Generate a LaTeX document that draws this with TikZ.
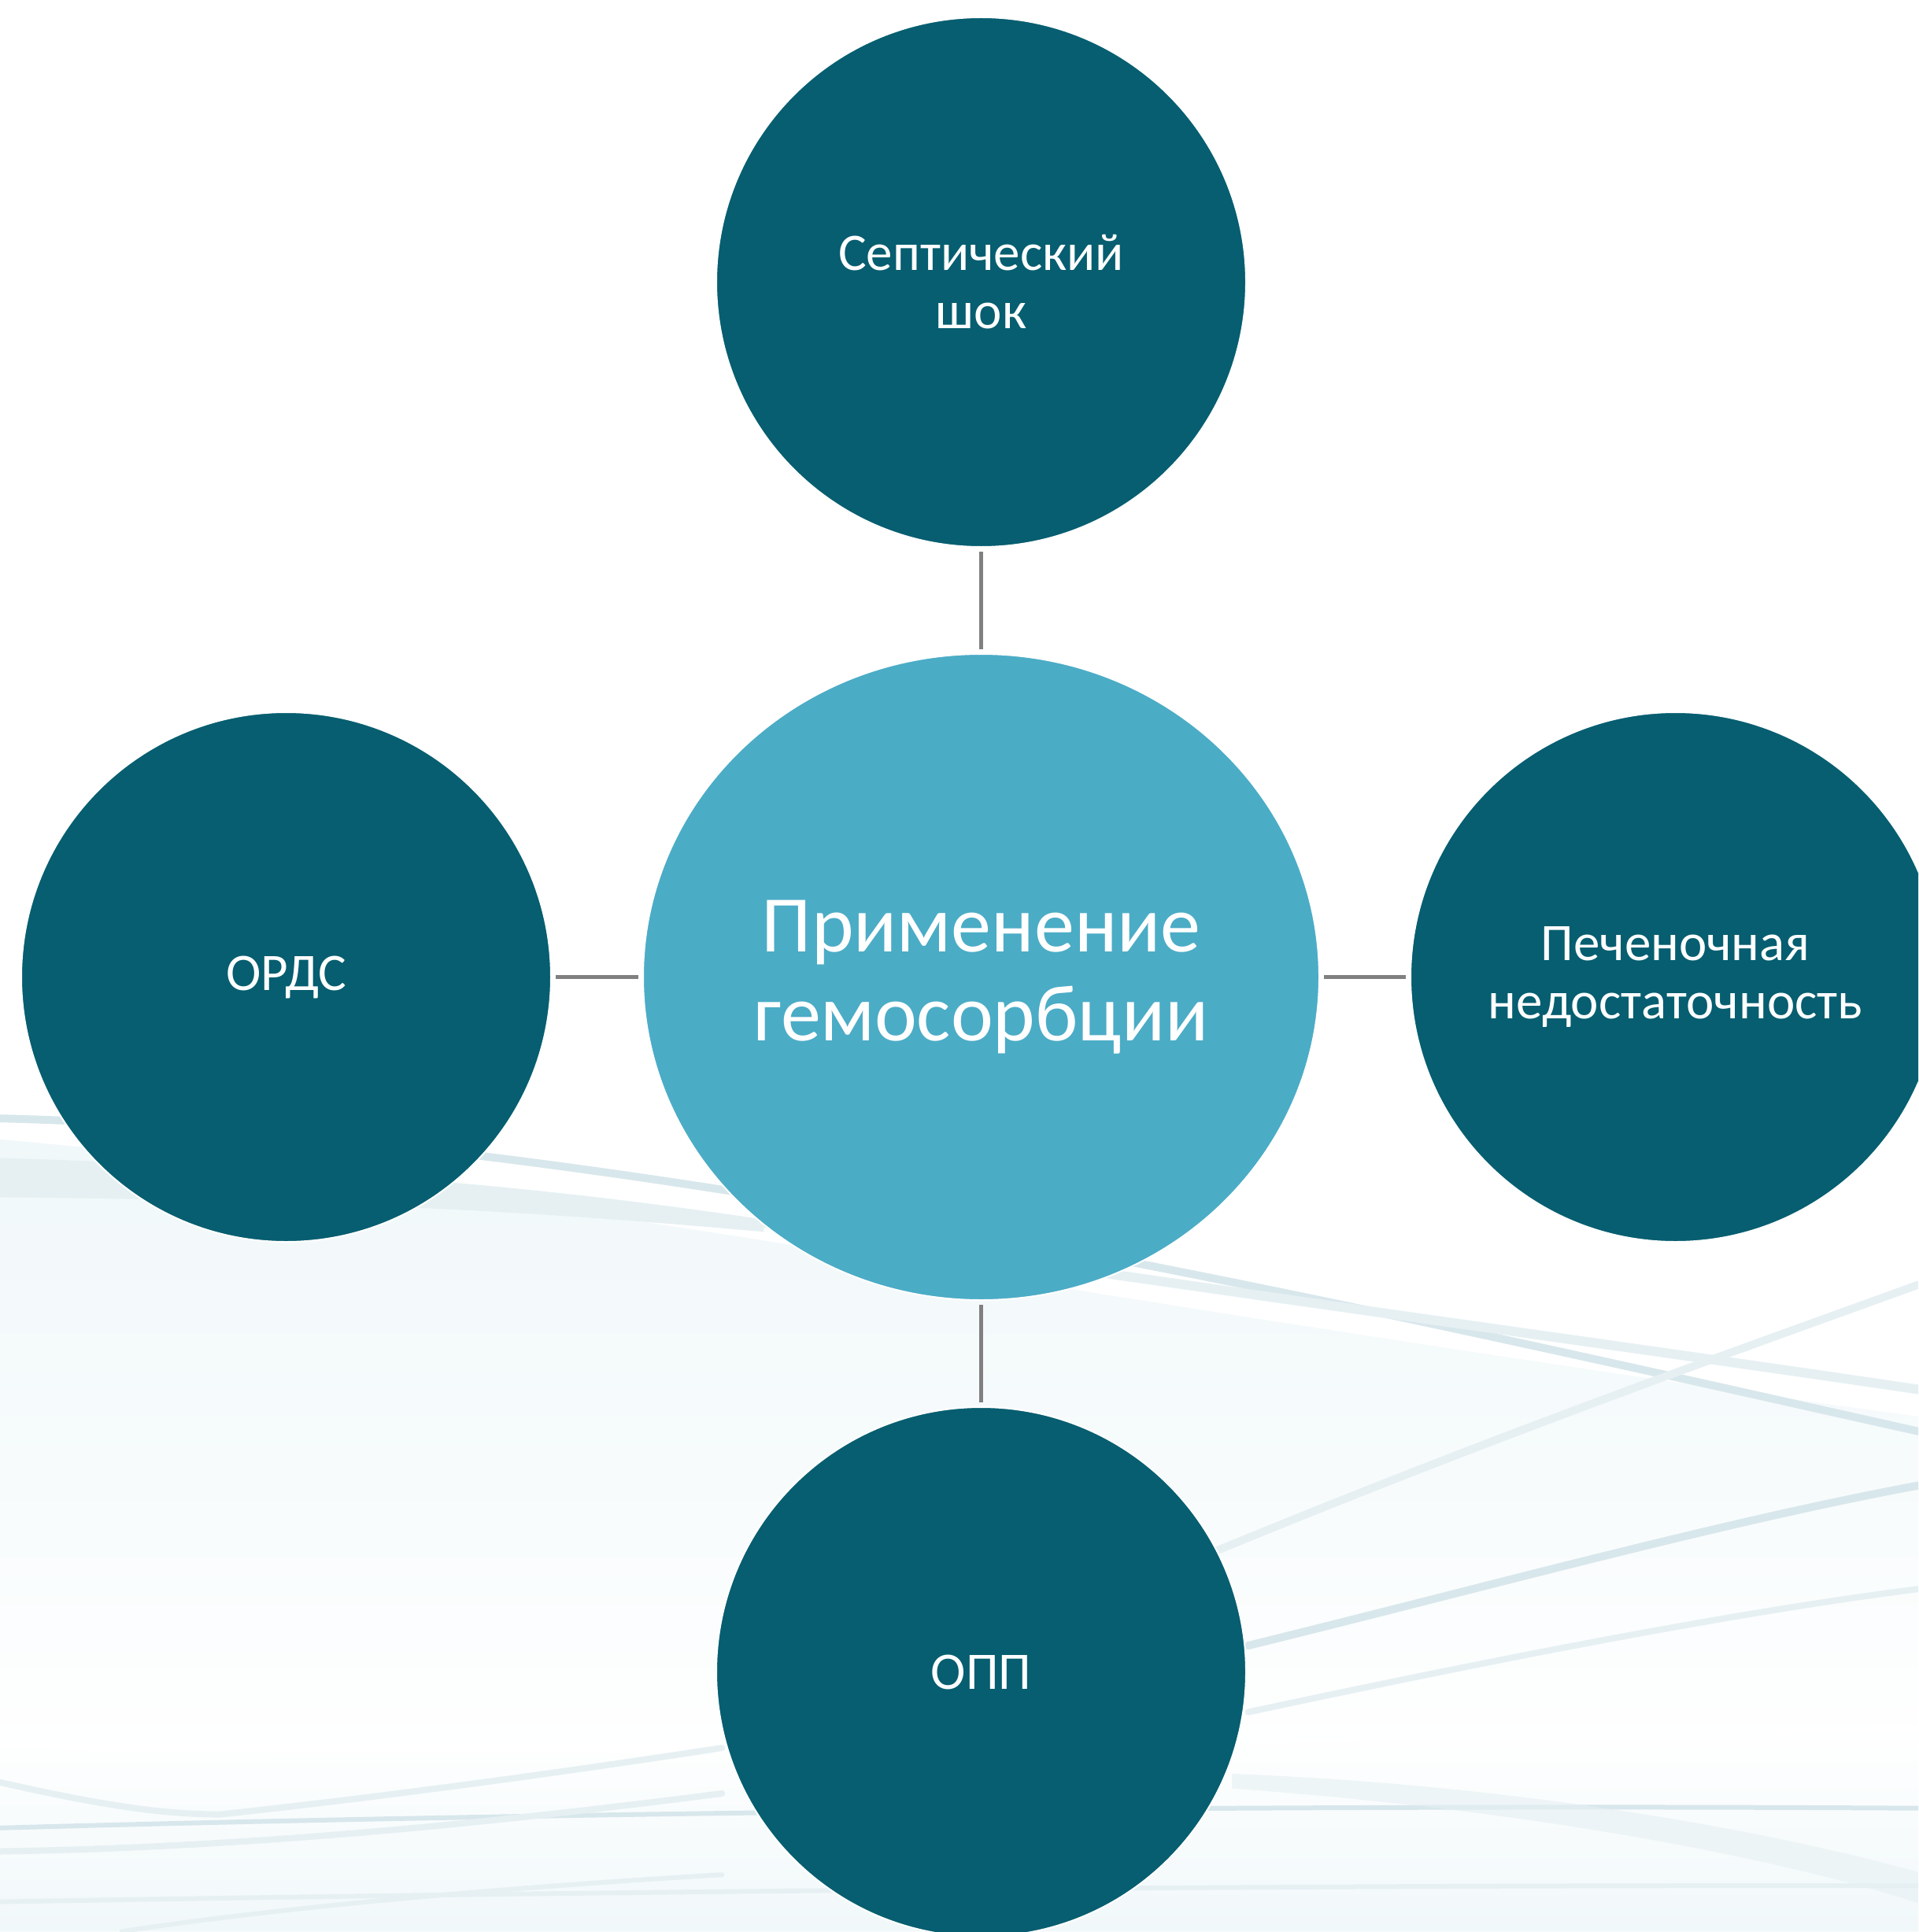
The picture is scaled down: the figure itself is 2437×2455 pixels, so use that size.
\documentclass[tikz,border=0pt]{standalone}
\usepackage{fontspec}
\setmainfont{Carlito}
\usetikzlibrary{shapes.geometric}
\definecolor{leafteal}{HTML}{065E70}
\definecolor{hubblue}{HTML}{4BACC6}
\definecolor{linkgray}{HTML}{808080}
\definecolor{swoosh}{HTML}{D8E7EC}
\definecolor{swooshlight}{HTML}{E6F0F3}
\definecolor{haze}{HTML}{F1F8FA}
\begin{document}
\begin{tikzpicture}[x=0.5pt,y=-0.5pt,
  leaf/.style={circle, fill=leafteal, draw=white, line width=1pt,
    minimum size=336.5pt, inner sep=0pt, text=white, align=center,
    font=\fontsize{33.5}{37}\selectfont},
  hub/.style={ellipse, fill=hubblue, draw=white, line width=1pt,
    minimum width=429.5pt, minimum height=410.5pt, inner sep=0pt,
    text=white, align=center, font=\fontsize{51}{56.5}\selectfont},
  link/.style={draw=linkgray, line width=2.6pt, shorten >=2.5pt, shorten <=2.5pt},
  band/.style={line cap=round, draw=swoosh},
  softband/.style={line cap=round, draw=swooshlight}]
\useasboundingbox (0,0) rectangle (2437,2455);
\clip (0,0) rectangle (2437,2455);
\fill[white] (0,0) rectangle (2437,2455);

% soft background swooshes (drawn in the 1557-wide grid)
\begin{scope}[scale=1.5652]
  \shade[top color=haze, bottom color=white, middle color=haze!60!white]
    (0,925) .. controls (400,960) and (900,1060) .. (1557,1150)
    -- (1557,1400) .. controls (1000,1420) and (400,1430) .. (0,1420) -- cycle;
  \shade[top color=white, bottom color=haze]
    (0,1420) .. controls (400,1430) and (1000,1420) .. (1557,1400)
    -- (1557,1568) -- (0,1568) -- cycle;
  \fill[swooshlight] (0,940) .. controls (300,950) and (450,965) .. (620,990)
    -- (620,1000) .. controls (450,985) and (300,975) .. (0,972) -- cycle;
  \draw[band, line width=5pt] (0,908) .. controls (500,920) and (1100,1060) .. (1557,1162);
  \draw[softband, line width=6pt] (620,993) .. controls (1000,1050) and (1300,1090) .. (1557,1128);
  \draw[softband, line width=5pt] (944,1277) .. controls (1200,1170) and (1400,1100) .. (1557,1043);
  \draw[band, line width=5pt] (1013,1336) .. controls (1200,1290) and (1400,1235) .. (1557,1206);
  \draw[softband, line width=4pt] (1013,1390) .. controls (1200,1350) and (1400,1310) .. (1557,1290);
  \draw[softband, line width=4pt] (0,1447) .. controls (80,1465) and (130,1473) .. (179,1473)
    .. controls (300,1460) and (450,1440) .. (586,1419);
  \draw[band, line width=3pt] (0,1484) .. controls (500,1470) and (1100,1465) .. (1557,1468);
  \draw[softband, line width=4pt] (0,1503) .. controls (200,1500) and (400,1480) .. (586,1456);
  \draw[softband, line width=3pt] (99,1568) .. controls (250,1545) and (450,1530) .. (586,1522);
  \draw[softband, line width=3pt] (0,1544) .. controls (500,1535) and (1100,1530) .. (1557,1531);
  \fill[swooshlight, opacity=0.6] (1000,1440) .. controls (1250,1450) and (1450,1490) .. (1557,1520)
    -- (1557,1545) .. controls (1450,1510) and (1250,1470) .. (1000,1452) -- cycle;
\end{scope}

% hub and satellites
\node[hub]  (hub)    at (1246.5,1241.5) {Применение\\гемосорбции};
\node[leaf] (septic) at (1246.5,358.5)   {Септический\\шок};
\node[leaf] (ards)   at (363.5,1241.5)   {ОРДС};
\node[leaf] (liver)  at (2128.5,1241.5)  {Печеночная\\недостаточность};
\node[leaf] (aki)    at (1246.5,2124.5)  {ОПП};

% connectors
\draw[link] (septic) -- (hub);
\draw[link] (ards) -- (hub);
\draw[link] (liver) -- (hub);
\draw[link] (aki) -- (hub);
\end{tikzpicture}
\end{document}
